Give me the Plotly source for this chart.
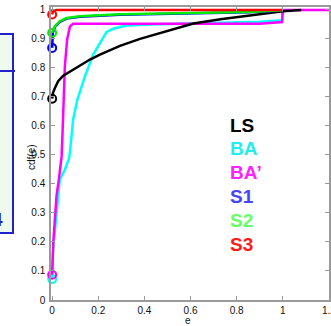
import plotly.graph_objects as go

# ---- data ----
ls_e   = [0, 0.004, 0.012, 0.026, 0.048, 0.091, 0.164, 0.207, 0.294, 0.381, 0.5, 0.612, 0.73, 0.847, 1.0, 1.08]
ls_cdf = [0.694, 0.715, 0.731, 0.754, 0.773, 0.794, 0.829, 0.846, 0.876, 0.900, 0.928, 0.953, 0.968, 0.980, 0.995, 1.0]

ba_e   = [0, 0.004, 0.012, 0.026, 0.033, 0.055, 0.074, 0.081, 0.091, 0.109, 0.142, 0.178, 0.215, 0.236, 0.265, 0.294, 0.323, 0.425, 0.65, 0.9, 0.997, 1.0]
ba_cdf = [0.072, 0.17, 0.24, 0.346, 0.415, 0.449, 0.49, 0.541, 0.622, 0.69, 0.771, 0.846, 0.898, 0.924, 0.935, 0.940, 0.946, 0.950, 0.954, 0.959, 0.964, 1.0]

bap_e   = [0, 0.005, 0.012, 0.019, 0.029, 0.041, 0.045, 0.051, 0.055, 0.065, 0.077, 0.091, 0.9, 0.997, 1.0, 1.2]
bap_cdf = [0.087, 0.2, 0.28, 0.36, 0.415, 0.495, 0.576, 0.69, 0.805, 0.898, 0.943, 0.952, 0.952, 0.958, 1.0, 1.0]

s1_e   = [0, 0.001, 0.003, 0.012, 0.033, 0.063, 0.12, 0.294, 0.64, 0.85, 1.0]
s1_cdf = [0.869, 0.90, 0.922, 0.941, 0.959, 0.970, 0.976, 0.983, 0.989, 0.992, 0.998]

s2_e   = [0, 0.004, 0.012, 0.033, 0.063, 0.12, 0.294, 0.45, 0.64, 0.85, 1.0]
s2_cdf = [0.921, 0.932, 0.943, 0.961, 0.972, 0.978, 0.985, 0.987, 0.990, 0.993, 0.999]

s3_e   = [0, 0.003, 0.01, 0.02, 1.0]
s3_cdf = [0.984, 0.993, 0.998, 1.0, 1.0]

x_ticks = [0, 0.2, 0.4, 0.6, 0.8, 1, 1.2]
x_tick_labels = ["0", "0.2", "0.4", "0.6", "0.8", "1", "1.2"]
y_ticks = [0, 0.1, 0.2, 0.3, 0.4, 0.5, 0.6, 0.7, 0.8, 0.9, 1]
y_tick_labels = ["0", "0.1", "0.2", "0.3", "0.4", "0.5", "0.6", "0.7", "0.8", "0.9", "1"]

legend_names = ["LS", "BA", "BA\u2019", "S1", "S2", "S3"]
legend_colors = ["#000000", "#22eeee", "#ff22ff", "#4444ff", "#66ff66", "#ff1a1a"]

W, H = 331, 326
L, R, T, B = 51, 2, 7, 26
PW, PH = W - L - R, H - T - B

def px(x):
    return (x - L) / PW

def py(y):
    return (H - B - y) / PH

fig = go.Figure()

series = [
    (ba_e, ba_cdf, "#00ffff"),
    (bap_e, bap_cdf, "#ff00ff"),
    (ls_e, ls_cdf, "#000000"),
    (s1_e, s1_cdf, "#0000ff"),
    (s2_e, s2_cdf, "#00ee00"),
    (s3_e, s3_cdf, "#ff0000"),
]
for ex, cy, col in series:
    fig.add_trace(go.Scatter(x=ex, y=cy, mode="lines", line=dict(color=col, width=2.5),
                             showlegend=False, hoverinfo="skip"))
    fig.add_trace(go.Scatter(x=ex[:1], y=cy[:1], mode="markers",
                             marker=dict(symbol="circle-open", size=8, color=col, line=dict(width=2, color=col)),
                             showlegend=False, hoverinfo="skip", cliponaxis=False))

axis_common = dict(showgrid=False, zeroline=False, showline=True, linecolor="#9a9a9a", linewidth=1.5,
                   mirror="ticks", ticks="inside", ticklen=4, tickcolor="#9a9a9a", tickwidth=1,
                   automargin=False, ticklabeloverflow="allow",
                   tickfont=dict(family="Liberation Sans, Arial", size=10, color="#111111"))

fig.update_xaxes(range=[-0.005, 1.2003], tickvals=x_ticks, ticktext=x_tick_labels, **axis_common)
fig.update_yaxes(range=[0, 1.01], tickvals=y_ticks, ticktext=y_tick_labels, ticklabelstandoff=2, **axis_common)

ann = []
# legend texts
for i, (name, col) in enumerate(zip(legend_names, legend_colors)):
    ann.append(dict(text="<b>%s</b>" % name, x=px(228), y=py(125 + i * 23.8), xref="paper", yref="paper",
                    xanchor="left", yanchor="middle", showarrow=False,
                    font=dict(family="Liberation Sans, Arial", size=19, color=col)))
# axis titles
ann.append(dict(text="cdf(e)", x=px(31), y=py(157), xref="paper", yref="paper", textangle=-90,
                xanchor="center", yanchor="middle", showarrow=False,
                font=dict(family="Liberation Sans, Arial", size=10, color="#111111")))
ann.append(dict(text="e", x=px(188), y=py(320), xref="paper", yref="paper",
                xanchor="center", yanchor="middle", showarrow=False,
                font=dict(family="Liberation Sans, Arial", size=10, color="#111111")))
# fragment of neighbouring panel
ann.append(dict(text="<b>4</b>", x=px(5), y=py(220), xref="paper", yref="paper",
                xanchor="right", yanchor="middle", showarrow=False,
                font=dict(family="Liberation Sans, Arial", size=19, color="#2222cc")))

shapes = [
    dict(type="rect", xref="paper", yref="paper", x0=px(-5), x1=px(13), y0=py(233), y1=py(34),
         line=dict(color="#2222cc", width=2), fillcolor="#effaef", layer="below"),
    dict(type="line", xref="paper", yref="paper", x0=px(-5), x1=px(15), y0=py(71), y1=py(71),
         line=dict(color="#2222cc", width=2)),
]

fig.update_layout(width=W, height=H, margin=dict(l=L, r=R, t=T, b=B, autoexpand=False), plot_bgcolor="white",
                  paper_bgcolor="white", annotations=ann, shapes=shapes, showlegend=False)

fig.write_html("out.html", config={"displayModeBar": False},
               post_script="document.body.style.margin='0';document.body.style.overflow='hidden';")
